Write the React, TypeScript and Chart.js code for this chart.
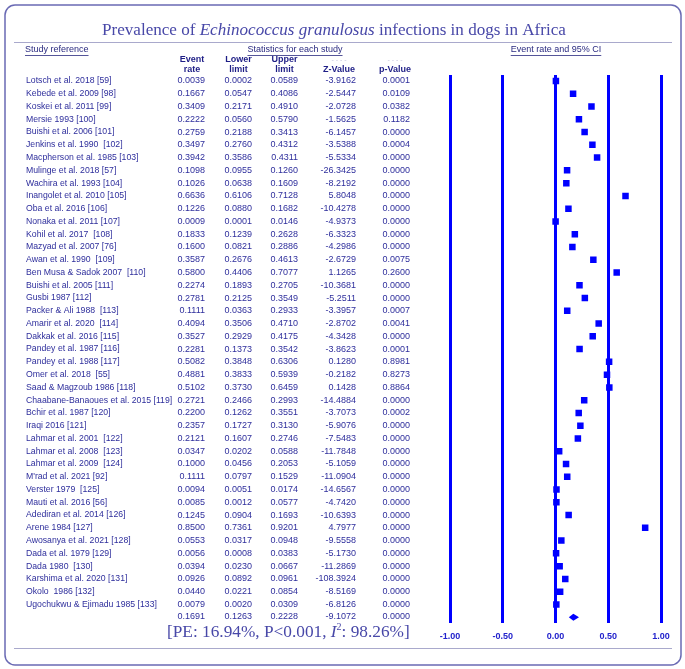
import React, { useEffect, useRef } from 'react';
import { Chart, registerables } from 'chart.js';

Chart.register(...registerables);

const studies = [
  'Lotsch et al. 2018 [59]',
  'Kebede et al. 2009 [98]',
  'Koskei et al. 2011 [99]',
  'Mersie 1993 [100]',
  'Buishi et al. 2006 [101]',
  'Jenkins et al. 1990  [102]',
  'Macpherson et al. 1985 [103]',
  'Mulinge et al. 2018 [57]',
  'Wachira et al. 1993 [104]',
  'Inangolet et al. 2010 [105]',
  'Oba et al. 2016 [106]',
  'Nonaka et al. 2011 [107]',
  'Kohil et al. 2017  [108]',
  'Mazyad et al. 2007 [76]',
  'Awan et al. 1990  [109]',
  'Ben Musa & Sadok 2007  [110]',
  'Buishi et al. 2005 [111]',
  'Gusbi 1987 [112]',
  'Packer & Ali 1988  [113]',
  'Amarir et al. 2020  [114]',
  'Dakkak et al. 2016 [115]',
  'Pandey et al. 1987 [116]',
  'Pandey et al. 1988 [117]',
  'Omer et al. 2018  [55]',
  'Saad & Magzoub 1986 [118]',
  'Chaabane-Banaoues et al. 2015 [119]',
  'Bchir et al. 1987 [120]',
  'Iraqi 2016 [121]',
  'Lahmar et al. 2001  [122]',
  'Lahmar et al. 2008  [123]',
  'Lahmar et al. 2009  [124]',
  "M'rad et al. 2021 [92]",
  'Verster 1979  [125]',
  'Mauti et al. 2016 [56]',
  'Adediran et al. 2014 [126]',
  'Arene 1984 [127]',
  'Awosanya et al. 2021 [128]',
  'Dada et al. 1979 [129]',
  'Dada 1980  [130]',
  'Karshima et al. 2020 [131]',
  'Okolo  1986 [132]',
  'Ugochukwu & Ejimadu 1985 [133]',
];

const eventRate = [
  0.0039, 0.1667, 0.3409, 0.2222, 0.2759, 0.3497, 0.3942, 0.1098, 0.1026, 0.6636,
  0.1226, 0.0009, 0.1833, 0.16, 0.3587, 0.58, 0.2274, 0.2781, 0.1111, 0.4094,
  0.3527, 0.2281, 0.5082, 0.4881, 0.5102, 0.2721, 0.22, 0.2357, 0.2121, 0.0347,
  0.1, 0.1111, 0.0094, 0.0085, 0.1245, 0.85, 0.0553, 0.0056, 0.0394, 0.0926,
  0.044, 0.0079,
];

const lowerLimit = [
  0.0002, 0.0547, 0.2171, 0.056, 0.2188, 0.276, 0.3586, 0.0955, 0.0638, 0.6106,
  0.088, 0.0001, 0.1239, 0.0821, 0.2676, 0.4406, 0.1893, 0.2125, 0.0363, 0.3506,
  0.2929, 0.1373, 0.3848, 0.3833, 0.373, 0.2466, 0.1262, 0.1727, 0.1607, 0.0202,
  0.0456, 0.0797, 0.0051, 0.0012, 0.0904, 0.7361, 0.0317, 0.0008, 0.023, 0.0892,
  0.0221, 0.002,
];

const upperLimit = [
  0.0589, 0.4086, 0.491, 0.579, 0.3413, 0.4312, 0.4311, 0.126, 0.1609, 0.7128,
  0.1682, 0.0146, 0.2628, 0.2886, 0.4613, 0.7077, 0.2705, 0.3549, 0.2933, 0.471,
  0.4175, 0.3542, 0.6306, 0.5939, 0.6459, 0.2993, 0.3551, 0.313, 0.2746, 0.0588,
  0.2053, 0.1529, 0.0174, 0.0577, 0.1693, 0.9201, 0.0948, 0.0383, 0.0667, 0.0961,
  0.0854, 0.0309,
];

const zValue = [
  -3.9162, -2.5447, -2.0728, -1.5625, -6.1457, -3.5388, -5.5334, -26.3425, -8.2192, 5.8048,
  -10.4278, -4.9373, -6.3323, -4.2986, -2.6729, 1.1265, -10.3681, -5.2511, -3.3957, -2.8702,
  -4.3428, -3.8623, 0.128, -0.2182, 0.1428, -14.4884, -3.7073, -5.9076, -7.5483, -11.7848,
  -5.1059, -11.0904, -14.6567, -4.742, -10.6393, 4.7977, -9.5558, -5.173, -11.2869, -108.3924,
  -8.5169, -6.8126,
];

const pValue = [
  0.0001, 0.0109, 0.0382, 0.1182, 0.0, 0.0004, 0.0, 0.0, 0.0, 0.0,
  0.0, 0.0, 0.0, 0.0, 0.0075, 0.26, 0.0, 0.0, 0.0007, 0.0041,
  0.0, 0.0001, 0.8981, 0.8273, 0.8864, 0.0, 0.0002, 0.0, 0.0, 0.0,
  0.0, 0.0, 0.0, 0.0, 0.0, 0.0, 0.0, 0.0, 0.0, 0.0,
  0.0, 0.0,
];

// pooled (random-effects) summary: event rate, lower, upper, z, p
const summaryStats = [0.1691, 0.1263, 0.2228, -9.1072, 0.0];
const pooledPercent = '16.94%';
const pooledP = 'P<0.001';
const iSquared = '98.26%';

const xTicks = [-1, -0.5, 0, 0.5, 1];

const SANS = '"Liberation Sans", Arial, Helvetica, sans-serif';
const SERIF = '"Liberation Serif", "Times New Roman", Times, serif';
const TEXT_COLOR = '#2e2e9c';
const HEAD_COLOR = '#1e1e86';
const TITLE_COLOR = '#4848a8';

type Part = { t: string; italic?: boolean; sup?: boolean };

function drawParts(
  ctx: CanvasRenderingContext2D,
  parts: Part[],
  size: number,
  left: number,
  right: number,
  baseline: number,
  color: string
) {
  const fontFor = (p: Part, s: number) =>
    `${p.italic ? 'italic ' : ''}${p.sup ? Math.round(s * 0.6) : s}px ${SERIF}`;
  let total = 0;
  parts.forEach((p) => {
    ctx.font = fontFor(p, size);
    total += ctx.measureText(p.t).width;
  });
  const s = size * ((right - left) / total);
  let x = left;
  ctx.fillStyle = color;
  ctx.textAlign = 'left';
  ctx.textBaseline = 'alphabetic';
  parts.forEach((p) => {
    ctx.font = fontFor(p, s);
    ctx.fillText(p.t, x, p.sup ? baseline - s * 0.38 : baseline);
    x += ctx.measureText(p.t).width;
  });
}

function underlined(ctx: CanvasRenderingContext2D, text: string, x: number, y: number, align: CanvasTextAlign) {
  ctx.textAlign = align;
  ctx.fillText(text, x, y);
  const w = ctx.measureText(text).width;
  const x0 = align === 'center' ? x - w / 2 : x;
  ctx.beginPath();
  ctx.moveTo(x0, y + 5.5);
  ctx.lineTo(x0 + w, y + 5.5);
  ctx.lineWidth = 1;
  ctx.strokeStyle = '#555599';
  ctx.stroke();
}

const forestPlugin = {
  id: 'forestTable',
  beforeDraw(chart: any) {
    const ctx: CanvasRenderingContext2D = chart.ctx;
    ctx.save();
    ctx.fillStyle = '#ffffff';
    ctx.fillRect(0, 0, chart.width, chart.height);
    ctx.restore();
  },
  afterDatasetsDraw(chart: any) {
    const ctx: CanvasRenderingContext2D = chart.ctx;
    const xs = chart.scales.x;
    const ys = chart.scales.y;
    const yc = ys.getPixelForValue(studies.length);
    const xl = xs.getPixelForValue(summaryStats[1]);
    const xr = xs.getPixelForValue(summaryStats[2]);
    const xm = xs.getPixelForValue(summaryStats[0]);
    ctx.save();
    ctx.beginPath();
    ctx.moveTo(xl, yc);
    ctx.lineTo(xm, yc - 3.5);
    ctx.lineTo(xr, yc);
    ctx.lineTo(xm, yc + 3.5);
    ctx.closePath();
    ctx.fillStyle = '#0000ff';
    ctx.fill();
    ctx.restore();
  },
  afterDraw(chart: any) {
    const ctx: CanvasRenderingContext2D = chart.ctx;
    const ys = chart.scales.y;
    ctx.save();

    // outer rounded frame
    const bx = 5, by = 5, bw = 676, bh = 660, r = 10;
    ctx.beginPath();
    ctx.moveTo(bx + r, by);
    ctx.lineTo(bx + bw - r, by);
    ctx.arcTo(bx + bw, by, bx + bw, by + r, r);
    ctx.lineTo(bx + bw, by + bh - r);
    ctx.arcTo(bx + bw, by + bh, bx + bw - r, by + bh, r);
    ctx.lineTo(bx + r, by + bh);
    ctx.arcTo(bx, by + bh, bx, by + bh - r, r);
    ctx.lineTo(bx, by + r);
    ctx.arcTo(bx, by, bx + r, by, r);
    ctx.closePath();
    ctx.strokeStyle = '#6a6ab4';
    ctx.lineWidth = 1.5;
    ctx.stroke();

    // separator lines
    ctx.strokeStyle = '#a9a9cc';
    ctx.lineWidth = 1;
    ctx.beginPath();
    ctx.moveTo(14, 42.5);
    ctx.lineTo(672, 42.5);
    ctx.moveTo(14, 648.5);
    ctx.lineTo(672, 648.5);
    ctx.stroke();

    // title
    drawParts(
      ctx,
      [
        { t: 'Prevalence of ' },
        { t: 'Echinococcus granulosus', italic: true },
        { t: ' infections in dogs in Africa' },
      ],
      20,
      102,
      566,
      35,
      TITLE_COLOR
    );

    // section headers
    ctx.font = `9px ${SANS}`;
    ctx.fillStyle = '#2a2a80';
    ctx.textBaseline = 'middle';
    underlined(ctx, 'Study reference', 25, 50, 'left');
    underlined(ctx, 'Statistics for each study', 295, 50, 'center');
    underlined(ctx, 'Event rate and 95% CI', 556, 50, 'center');

    // column headers
    const cols = [205, 252, 298, 356, 410];
    ctx.font = `bold 9px ${SANS}`;
    ctx.fillStyle = HEAD_COLOR;
    ctx.textAlign = 'center';
    ctx.fillText('Event', 192, 60);
    ctx.fillText('rate', 192, 70);
    ctx.fillText('Lower', 238.5, 60);
    ctx.fillText('limit', 238.5, 70);
    ctx.fillText('Upper', 284.5, 60);
    ctx.fillText('limit', 284.5, 70);
    ctx.fillText('Z-Value', 339, 70);
    ctx.fillText('p-Value', 395, 70);
    ctx.font = `7px ${SANS}`;
    ctx.fillStyle = '#c4c4dc';
    ctx.fillText('- - - -', 339, 60);
    ctx.fillText('- - - -', 395, 60);

    // table rows
    ctx.fillStyle = TEXT_COLOR;
    studies.forEach((name, i) => {
      const y = ys.getPixelForValue(i);
      ctx.font = `8.7px ${SANS}`;
      ctx.textAlign = 'left';
      ctx.fillText(name, 26, y);
      ctx.font = `9px ${SANS}`;
      ctx.textAlign = 'right';
      const vals = [eventRate[i], lowerLimit[i], upperLimit[i], zValue[i], pValue[i]];
      vals.forEach((v, k) => ctx.fillText(v.toFixed(4), cols[k], y));
    });
    const ySum = ys.getPixelForValue(studies.length);
    ctx.textAlign = 'right';
    summaryStats.forEach((v, k) => ctx.fillText(v.toFixed(4), cols[k], ySum - 1));

    // pooled estimate line
    drawParts(
      ctx,
      [
        { t: `[PE: ${pooledPercent}, ${pooledP}, ` },
        { t: 'I', italic: true },
        { t: '2', sup: true },
        { t: `: ${iSquared}]` },
      ],
      17,
      167,
      410,
      637,
      TITLE_COLOR
    );

    ctx.restore();
  },
};

export default function App() {
  const canvasRef = useRef<HTMLCanvasElement | null>(null);

  useEffect(() => {
    const canvas = canvasRef.current;
    if (!canvas) return;
    const points = eventRate.map((v, i) => ({ x: v, y: i }));
    const chart = new Chart(canvas, {
      type: 'scatter',
      data: {
        datasets: [
          {
            label: 'Event rate',
            data: points,
            pointStyle: 'rect',
            pointRadius: 4.6,
            pointHoverRadius: 4.6,
            backgroundColor: '#0000ff',
            borderColor: '#0000ff',
            borderWidth: 0,
          },
        ],
      },
      options: {
        responsive: false,
        animation: false,
        devicePixelRatio: 1,
        layout: { padding: { left: 450, right: 24, top: 75, bottom: 19 } },
        plugins: {
          legend: { display: false },
          tooltip: { enabled: false },
          title: { display: false },
        },
        scales: {
          x: {
            type: 'linear',
            min: -1,
            max: 1,
            afterBuildTicks: (axis: any) => {
              axis.ticks = xTicks.map((v) => ({ value: v }));
            },
            ticks: {
              callback: (v: any) => Number(v).toFixed(2),
              font: { family: SANS, size: 9, weight: 'bold' },
              color: '#2222cc',
              padding: 8,
              maxRotation: 0,
            },
            grid: {
              color: '#0000ff',
              lineWidth: 3,
              drawTicks: false,
            },
            border: { display: false },
          },
          y: {
            type: 'linear',
            reverse: true,
            min: -0.47,
            max: studies.length + 0.47,
            display: false,
          },
        },
      },
      plugins: [forestPlugin],
    });
    return () => chart.destroy();
  }, []);

  return (
    <div style={{ position: 'absolute', left: 0, top: 0, width: 685, height: 669 }}>
      <canvas ref={canvasRef} width={685} height={669} />
    </div>
  );
}
